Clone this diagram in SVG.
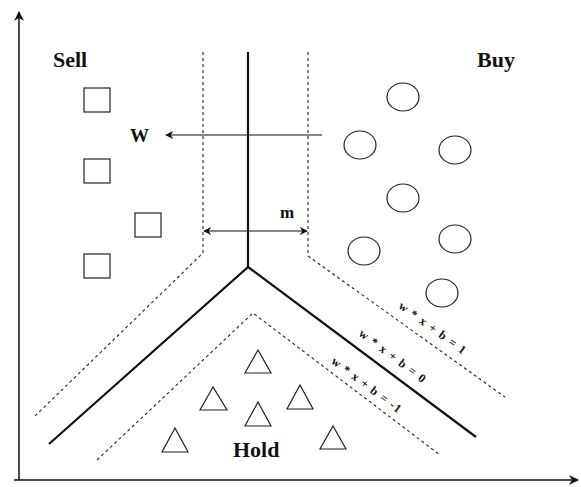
<svg xmlns="http://www.w3.org/2000/svg" width="581" height="487" viewBox="0 0 581 487">
<defs>
<style>
.lbl{font-family:"Liberation Serif","Times New Roman",serif;font-weight:bold;fill:#111}
.big{font-size:22px}
.eq{font-size:12px}
.sq,.ci,.tr{fill:none;stroke:#222;stroke-width:1.2}
.solid{fill:none;stroke:#111;stroke-width:2.2}
.dash{fill:none;stroke:#222;stroke-width:1.1;stroke-dasharray:3 3}
.ax{fill:none;stroke:#111;stroke-width:1.5}
.thin{fill:none;stroke:#111;stroke-width:1.2}
</style>
<marker id="ah" viewBox="0 0 10 10" refX="9" refY="5" markerWidth="8" markerHeight="8" markerUnits="userSpaceOnUse" orient="auto-start-reverse">
<path d="M0,0 L10,5 L0,10 L3,5 Z" fill="#111"/>
</marker>
<marker id="axh" viewBox="0 0 10 10" refX="9" refY="5" markerWidth="10" markerHeight="10" markerUnits="userSpaceOnUse" orient="auto">
<path d="M0,0 L10,5 L0,10 L3,5 Z" fill="#111"/>
</marker>
</defs>
<rect width="581" height="487" fill="#fff"/>

<g id="axes">
<line class="ax" x1="19" y1="480" x2="19" y2="12" marker-end="url(#axh)"/>
<line class="ax" x1="14" y1="480" x2="578" y2="480" marker-end="url(#axh)"/>
</g>

<g id="connectors">
<polyline class="solid" points="248,52 248,267 49,444"/>
<line class="solid" x1="248" y1="267" x2="476" y2="437"/>
<polyline class="dash" points="203,52 203,253 33,418"/>
<polyline class="dash" points="308,52 308,256 505,397"/>
<polyline class="dash" points="97,460 253,313 440,455"/>
<line class="thin" x1="322" y1="135" x2="166" y2="135" marker-end="url(#ah)"/>
<line class="thin" x1="204" y1="231" x2="307" y2="231" marker-start="url(#ah)" marker-end="url(#ah)"/>
</g>

<g id="labels">
<text class="lbl big" x="53" y="67">Sell</text>
<text class="lbl big" x="477" y="67">Buy</text>
<text class="lbl big" x="233" y="457">Hold</text>
<text class="lbl" x="130" y="142" font-size="19">W</text>
<text class="lbl" x="280" y="218" font-size="17">m</text>
<text class="lbl eq" x="430" y="331" text-anchor="middle" textLength="80" lengthAdjust="spacing" transform="rotate(36 430 331)">w * x + b = 1</text>
<text class="lbl eq" x="390" y="359" text-anchor="middle" textLength="80" lengthAdjust="spacing" transform="rotate(37 390 359)">w * x + b = 0</text>
<text class="lbl eq" x="364" y="388" text-anchor="middle" textLength="84" lengthAdjust="spacing" transform="rotate(37 364 388)">w * x + b = -1</text>
</g>

<g id="sell">
<rect class="sq" x="84" y="88" width="26" height="24"/>
<rect class="sq" x="84" y="159" width="26" height="24"/>
<rect class="sq" x="135" y="213" width="26" height="24"/>
<rect class="sq" x="84" y="254" width="26" height="24"/>
</g>

<g id="buy">
<ellipse class="ci" cx="403" cy="97" rx="16" ry="14"/>
<ellipse class="ci" cx="360" cy="145" rx="16" ry="14"/>
<ellipse class="ci" cx="455" cy="150" rx="16" ry="14"/>
<ellipse class="ci" cx="403" cy="198" rx="16" ry="14"/>
<ellipse class="ci" cx="364" cy="251" rx="16" ry="14"/>
<ellipse class="ci" cx="455" cy="239" rx="16" ry="14"/>
<ellipse class="ci" cx="442" cy="293" rx="16" ry="14"/>
</g>

<g id="hold">
<polygon class="tr" points="258,350 245,373 271,373"/>
<polygon class="tr" points="213,387 200,410 227,410"/>
<polygon class="tr" points="258,402 245,426 271,426"/>
<polygon class="tr" points="175,428 162,452 188,452"/>
<polygon class="tr" points="300,385 287,409 313,409"/>
<polygon class="tr" points="333,426 320,449 346,449"/>
</g>
</svg>
